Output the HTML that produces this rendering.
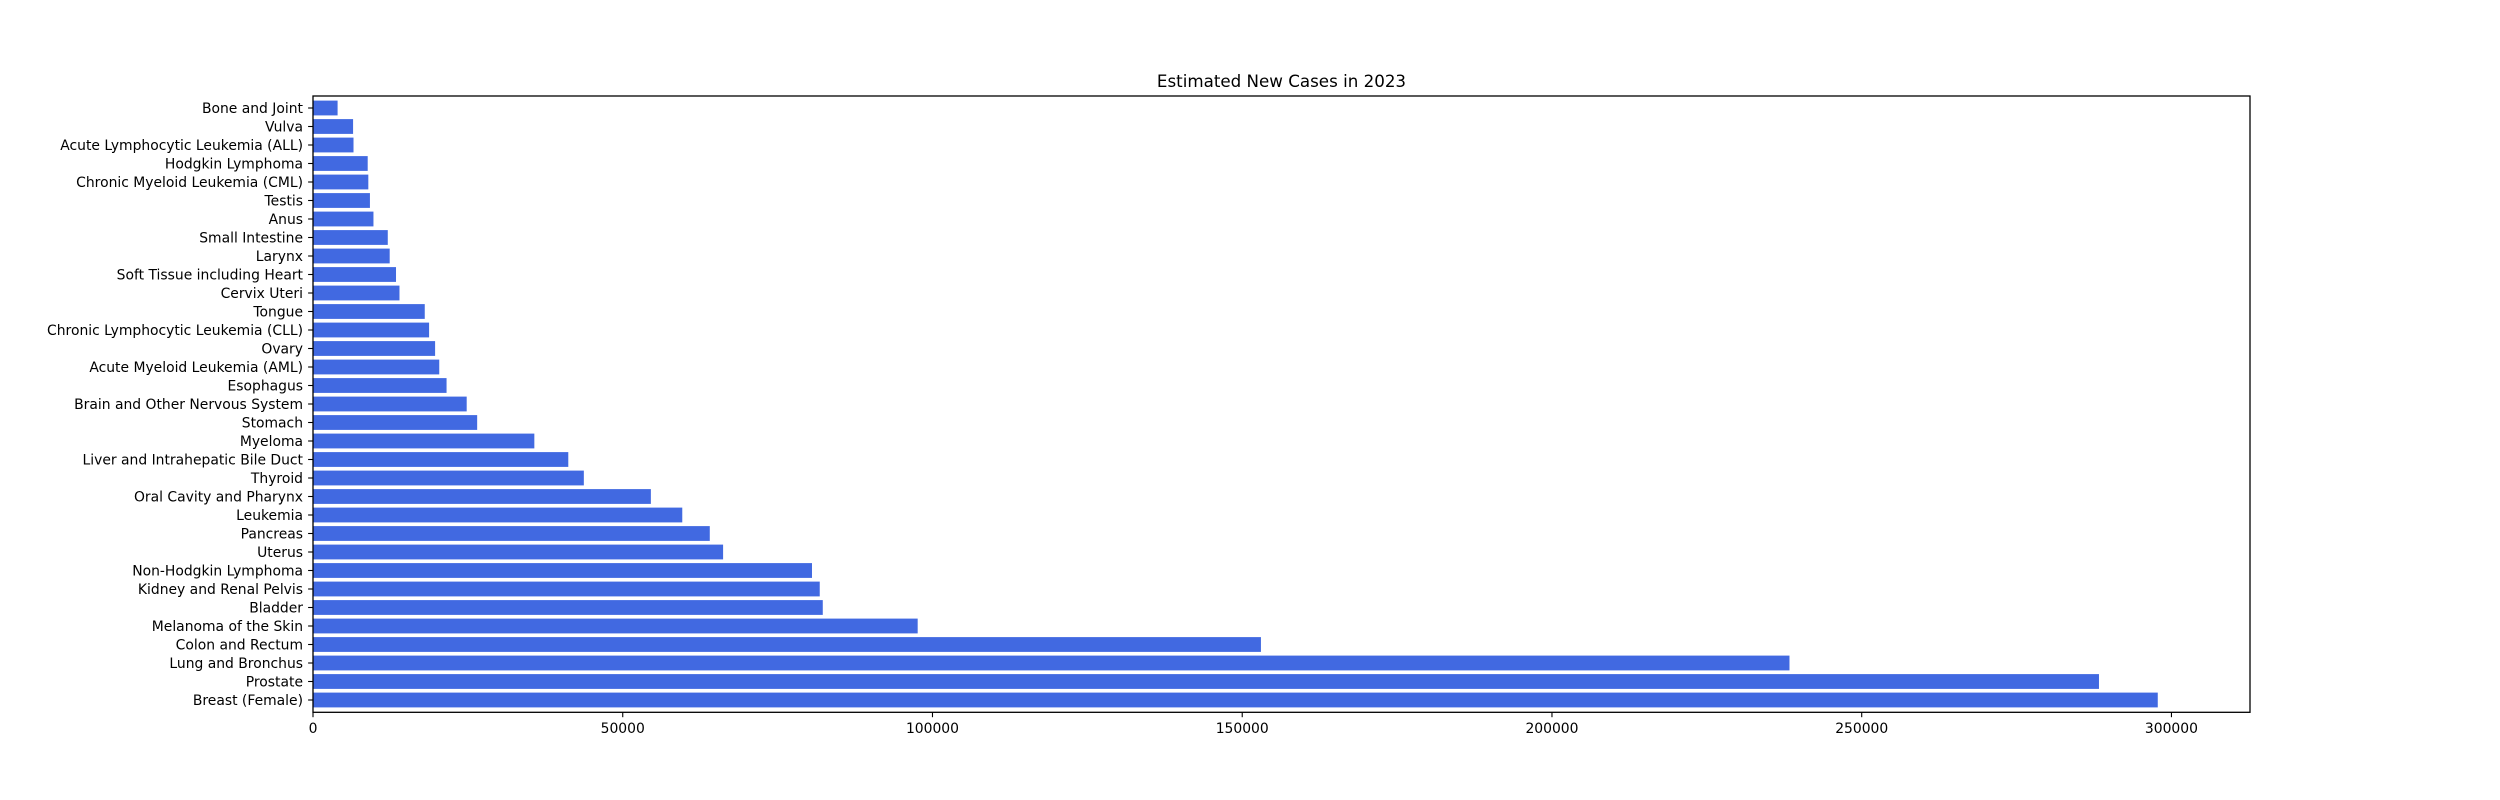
<!DOCTYPE html>
<html><head><meta charset="utf-8"><style>
html,body{margin:0;padding:0;background:#fff;}
svg{display:block;font-family:"DejaVu Sans","Liberation Sans",sans-serif;}
</style></head><body>
<svg id="chart" width="2500" height="800" viewBox="0 0 2500 800">
<rect x="0" y="0" width="2500" height="800" fill="#fff"/>
<text x="1281.5" y="87" font-size="16.7" text-anchor="middle" fill="#000">Estimated New Cases in 2023</text>
<g id="bars"></g>
<g id="yticks"></g>
<g id="xticks"></g>
<rect x="313" y="96" width="1937" height="616.3" fill="none" stroke="#000" stroke-width="1.3"/>
</svg>
<script>
const categories = ["Breast (Female)","Prostate","Lung and Bronchus","Colon and Rectum","Melanoma of the Skin","Bladder","Kidney and Renal Pelvis","Non-Hodgkin Lymphoma","Uterus","Pancreas","Leukemia","Oral Cavity and Pharynx","Thyroid","Liver and Intrahepatic Bile Duct","Myeloma","Stomach","Brain and Other Nervous System","Esophagus","Acute Myeloid Leukemia (AML)","Ovary","Chronic Lymphocytic Leukemia (CLL)","Tongue","Cervix Uteri","Soft Tissue including Heart","Larynx","Small Intestine","Anus","Testis","Chronic Myeloid Leukemia (CML)","Hodgkin Lymphoma","Acute Lymphocytic Leukemia (ALL)","Vulva","Bone and Joint"];
const values = [297790,288300,238340,153020,97610,82290,81800,80550,66200,64050,59610,54540,43720,41210,35730,26500,24810,21560,20380,19710,18740,18040,13960,13400,12380,12070,9760,9190,8930,8830,6540,6470,3970];
const xTicks = [0,50000,100000,150000,200000,250000,300000];
const xTickLabels = ["0","50000","100000","150000","200000","250000","300000"];

const NS="http://www.w3.org/2000/svg";
const x0=313, x1=2250, xMax=Math.max(...values)*1.05;
function xs(v){return x0+(v/xMax)*(x1-x0);}
const yBottom=700, pitch=(700-108)/(categories.length-1);
function ys(i){return yBottom-i*pitch;}
const bh=pitch*0.8;
const gb=document.getElementById('bars'), gy=document.getElementById('yticks'), gx=document.getElementById('xticks');
categories.forEach((c,i)=>{
  const r=document.createElementNS(NS,'rect');
  r.setAttribute('x',xs(0));r.setAttribute('y',ys(i)-bh/2);
  r.setAttribute('width',xs(values[i])-xs(0));r.setAttribute('height',bh);
  r.setAttribute('fill','#4169e1');
  
  
  gb.appendChild(r);
  const l=document.createElementNS(NS,'line');
  l.setAttribute('x1',x0-4.9);l.setAttribute('x2',x0);l.setAttribute('y1',ys(i));l.setAttribute('y2',ys(i));
  l.setAttribute('stroke','#000');l.setAttribute('stroke-width','1.1');
  
  
  gy.appendChild(l);
  const t=document.createElementNS(NS,'text');
  t.setAttribute('x',x0-10);t.setAttribute('y',ys(i)+4.8);
  t.setAttribute('font-size','13.9');t.setAttribute('text-anchor','end');
  t.textContent=c;
  
  
  gy.appendChild(t);
});
xTicks.forEach((v,i)=>{
  const l=document.createElementNS(NS,'line');
  l.setAttribute('x1',xs(v));l.setAttribute('x2',xs(v));l.setAttribute('y1',712.3);l.setAttribute('y2',717.2);
  l.setAttribute('stroke','#000');l.setAttribute('stroke-width','1.1');
  
  
  gx.appendChild(l);
  const t=document.createElementNS(NS,'text');
  t.setAttribute('x',xs(v));t.setAttribute('y',733);
  t.setAttribute('font-size','13.9');t.setAttribute('text-anchor','middle');
  t.textContent=xTickLabels[i];
  
  
  gx.appendChild(t);
});
</script>
</body></html>
